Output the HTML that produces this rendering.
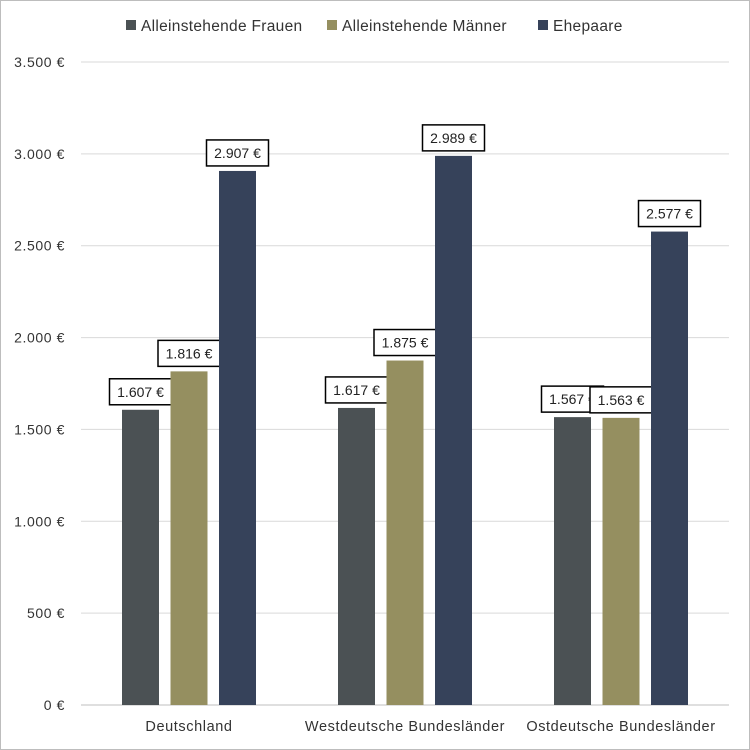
<!DOCTYPE html>
<html><head><meta charset="utf-8"><style>
body{margin:0;background:#fff}
svg{display:block;font-family:"Liberation Sans",sans-serif}
</style></head><body>
<svg width="750" height="750" id="c">
<rect x="0.5" y="0.5" width="749" height="749" fill="#fff" stroke="#bdbdbd"/>
</svg>
<script>
const categories=["Deutschland","Westdeutsche Bundesländer","Ostdeutsche Bundesländer"];
const seriesNames=["Alleinstehende Frauen","Alleinstehende Männer","Ehepaare"];
const frauen=[1607,1617,1567];
const maenner=[1816,1875,1563];
const ehepaare=[2907,2989,2577];
const valueLabels=[["1.607 €","1.816 €","2.907 €"],["1.617 €","1.875 €","2.989 €"],["1.567 €","1.563 €","2.577 €"]];
const yTicks=[0,500,1000,1500,2000,2500,3000,3500];
const yTickLabels=["0 €","500 €","1.000 €","1.500 €","2.000 €","2.500 €","3.000 €","3.500 €"];
const colors=["#4b5154","#958f60","#36425a"];
const svg=document.getElementById('c');
const NS="http://www.w3.org/2000/svg";
const x0=81,x1=729,yBase=705,yTop=62,yMax=3500;
const y=v=>yBase-(v/yMax)*(yBase-yTop);
const band=(x1-x0)/categories.length;
const cx=i=>x0+band*(i+0.5);
function mk(t,a,p){const e=document.createElementNS(NS,t);for(const k in a)e.setAttribute(k,a[k]);(p||svg).appendChild(e);return e;}
yTicks.forEach((t,i)=>{
 const g=mk('line',{x1:x0,x2:x1,y1:y(t),y2:y(t),stroke:i===0?'#bfbfbf':'#d9d9d9','stroke-width':1});
 
 
 const l=mk('text',{x:65,y:y(t)+5,'text-anchor':'end','font-size':14,'letter-spacing':0.6,fill:'#333'});
 l.textContent=yTickLabels[i];
 
 
});
const series=[frauen,maenner,ehepaare];
categories.forEach((c,i)=>{
 const t=mk('text',{x:cx(i),y:731,'text-anchor':'middle','font-size':14.5,'letter-spacing':0.6,fill:'#333'});
 t.textContent=c;
 
 
 series.forEach((s,j)=>{
  const bx=cx(i)-67+j*48.5,w=37;
  const r=mk('rect',{x:bx,y:y(s[i]),width:w,height:yBase-y(s[i]),fill:colors[j]});
  
  
  const lw=62,lh=26,lx=bx+w/2-lw/2,ly=y(s[i])-5-lh;
  const b=mk('rect',{x:lx,y:ly,width:lw,height:lh,fill:'#fff',stroke:'#000','stroke-width':1.5});
  
  
  const vt=mk('text',{x:lx+lw/2,y:ly+18,'text-anchor':'middle','font-size':14,fill:'#222'});
  vt.textContent=valueLabels[i][j];
  
  
 });
});
const legX=[126,327,538];
seriesNames.forEach((n,j)=>{
 const r=mk('rect',{x:legX[j],y:20,width:10,height:10,fill:colors[j]});
 
 
 const t=mk('text',{x:legX[j]+15,y:31,'font-size':15.5,'letter-spacing':0.3,fill:'#333'});
 t.textContent=n;
 
 
});
</script>
</body></html>
